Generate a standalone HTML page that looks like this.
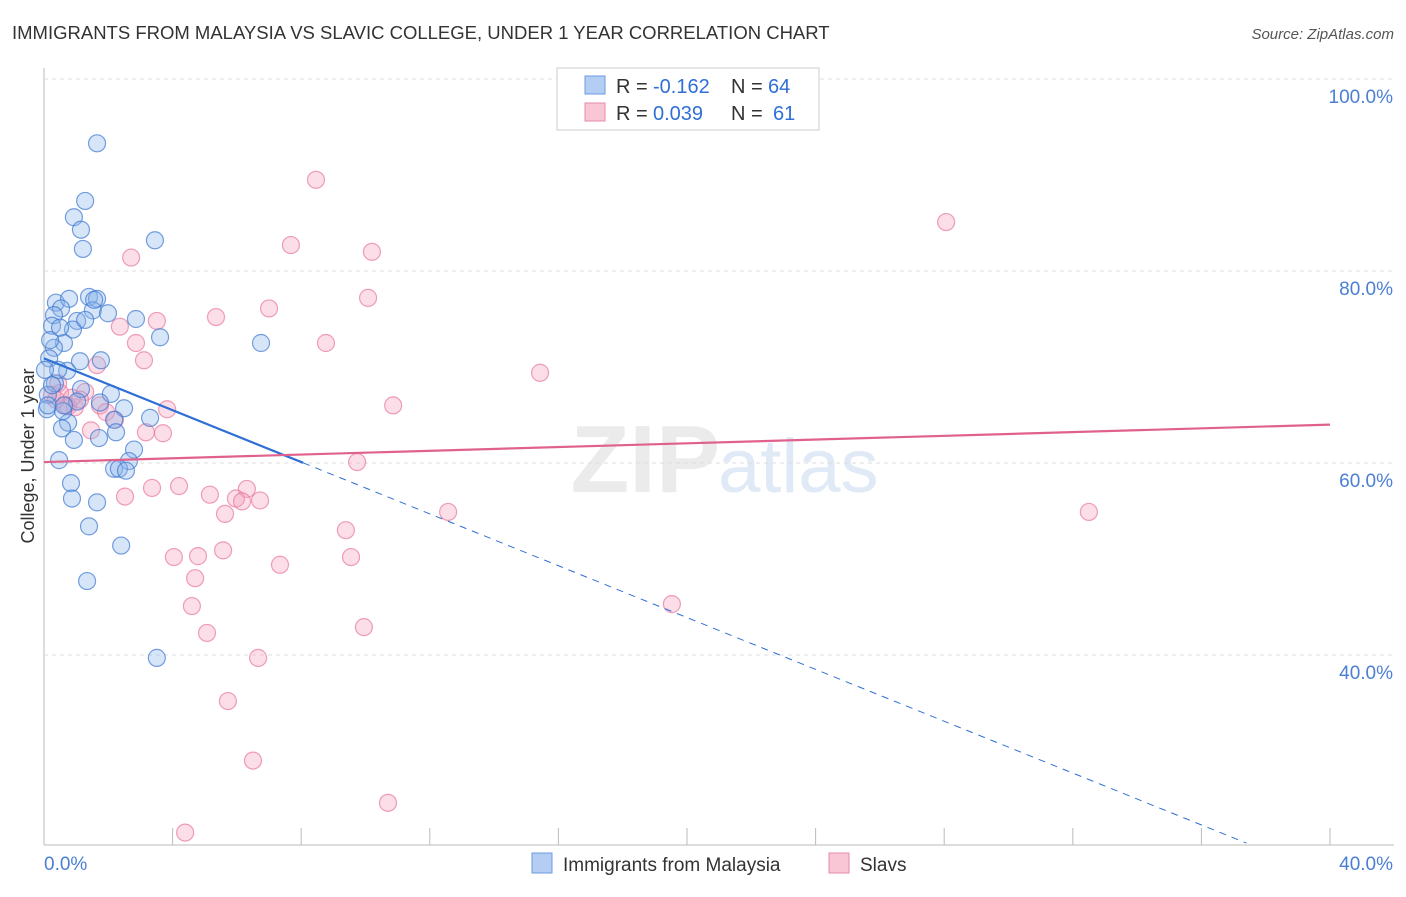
<!DOCTYPE html>
<html><head><meta charset="utf-8"><style>
body{margin:0;background:#fff;font-family:"Liberation Sans",sans-serif}
svg text{font-family:"Liberation Sans",sans-serif}
</style></head><body>
<svg id="c" width="1406" height="892">
<text x="12" y="39" font-size="18.5" fill="#333">IMMIGRANTS FROM MALAYSIA VS SLAVIC COLLEGE, UNDER 1 YEAR CORRELATION CHART</text>
<text x="1394" y="39" font-size="15" fill="#555" font-style="italic" text-anchor="end">Source: ZipAtlas.com</text>
<text x="720" y="492" font-size="96" fill="#ebebeb" font-family="Liberation Serif" text-anchor="end" font-weight="bold">ZIP</text>
<text x="718" y="492" font-size="76" fill="#e0e9f6">atlas</text>
<text x="34" y="456" font-size="18" fill="#333" text-anchor="middle" transform="rotate(-90 34 456)">College, Under 1 year</text>
<g id="grid"></g><g id="pts"></g><g id="trend"></g>
<g>
<rect x="557" y="68" width="262" height="62" fill="#fff" stroke="#ccc"/>
<rect x="585" y="76" width="20" height="18" fill="#b3cdf3" stroke="#6a9be0"/>
<rect x="585" y="103" width="20" height="18" fill="#f8c6d5" stroke="#e88aa8"/>
<text x="616" y="93" font-size="20" fill="#333">R =</text>
<text x="653" y="93" font-size="20" fill="#2f6fd6">-0.162</text>
<text x="731" y="93" font-size="20" fill="#333">N =</text>
<text x="768" y="93" font-size="20" fill="#2f6fd6">64</text>
<text x="616" y="120" font-size="20" fill="#333">R =</text>
<text x="653" y="120" font-size="20" fill="#2f6fd6">0.039</text>
<text x="731" y="120" font-size="20" fill="#333">N =</text>
<text x="773" y="120" font-size="20" fill="#2f6fd6">61</text>
</g>
<g>
<rect x="532" y="853" width="20" height="20" fill="#b3cdf3" stroke="#6a9be0"/>
<text x="563" y="871" font-size="19" fill="#333">Immigrants from Malaysia</text>
<rect x="829" y="853" width="20" height="20" fill="#f8c6d5" stroke="#e88aa8"/>
<text x="860" y="871" font-size="19" fill="#333">Slavs</text>
</g>
</svg>
<script>
const blueX=[1.65,1.28,0.93,1.15,1.21,3.45,6.75,0.37,0.78,0.53,1.40,1.65,1.52,1.99,2.86,0.31,0.25,1.03,0.90,0.62,0.31,0.16,1.77,1.12,0.72,1.15,2.08,0.34,0.12,0.09,1.03,2.49,3.30,2.18,2.24,0.75,0.56,1.71,0.93,2.80,2.64,0.47,2.18,2.33,2.55,0.84,0.87,1.65,1.40,2.40,1.34,3.51,0.44,1.56,1.74,0.59,0.12,0.03,0.25,3.61,0.62,0.19,1.28,0.50];
const blueY=[93.3,87.3,85.6,84.3,82.3,83.2,72.5,76.7,77.1,76.1,77.3,77.1,75.9,75.6,75.0,75.4,74.3,74.8,73.9,72.5,72.0,70.9,70.7,70.6,69.6,67.7,67.2,68.3,67.1,65.6,66.4,65.7,64.7,64.5,63.2,64.2,63.6,62.6,62.4,61.4,60.2,60.3,59.4,59.4,59.2,57.9,56.3,55.9,53.4,51.4,47.7,39.7,69.7,77.0,66.3,65.4,66.0,69.7,68.1,73.1,66.0,72.8,74.9,74.1];
const pinkX=[8.46,28.06,7.68,10.20,2.71,10.08,7.00,5.35,3.51,2.36,8.77,2.86,3.11,15.43,1.65,0.44,1.28,0.25,1.74,10.86,3.83,0.75,1.93,2.21,3.70,3.17,1.46,9.74,4.20,2.52,3.36,5.16,6.31,5.97,6.72,6.16,5.63,12.57,32.50,9.39,4.04,4.79,5.57,9.55,7.34,4.70,4.60,19.53,5.07,9.95,6.66,5.72,6.50,10.70,4.39,0.50,0.96,0.68,0.37,0.87,1.12];
const pinkY=[89.5,85.1,82.7,82.0,81.4,77.2,76.1,75.2,74.8,74.2,72.5,72.5,70.7,69.4,70.2,68.3,67.4,67.1,66.0,66.0,65.6,65.9,65.3,64.5,63.1,63.2,63.4,60.1,57.6,56.5,57.4,56.7,57.3,56.3,56.1,56.0,54.7,54.9,54.9,53.0,50.2,50.3,50.9,50.2,49.4,48.0,45.1,45.3,42.3,42.9,39.7,35.2,29.0,24.6,21.5,67.3,65.8,66.0,66.6,66.8,66.6];
const yTicks=[100,80,60,40];
const yTickLabels=["100.0%","80.0%","60.0%","40.0%"];
const blueTrend=[70.9,-1.35];
const pinkTrend=[60.1,0.0975];
const NS="http://www.w3.org/2000/svg";
const xs=v=>44+v*32.15, ys=v=>79+(100-v)*9.6;
function mk(t,a,p){const e=document.createElementNS(NS,t);for(const k in a)e.setAttribute(k,a[k]);p.appendChild(e);return e;}
const grid=document.getElementById('grid');
mk('line',{x1:44,y1:68,x2:44,y2:845,stroke:'#bbb'},grid);
mk('line',{x1:44,y1:845,x2:1394,y2:845,stroke:'#bbb'},grid);
for(let i=0;i<yTicks.length;i++){
 const y=ys(yTicks[i]);
 const l=mk('line',{x1:44,y1:y,x2:1394,y2:y,stroke:'#ddd','stroke-dasharray':'4,4'},grid);
 
 
 const t=mk('text',{x:1393,y:y+24,'font-size':19,fill:'#4a7fd4','text-anchor':'end'},grid);
 t.textContent=yTickLabels[i];
 
 
}
for(let i=1;i<=10;i++){const x=44+i*128.6;mk('line',{x1:x,y1:828,x2:x,y2:845,stroke:'#bbb'},grid);}
const xl=mk('text',{x:44,y:870,'font-size':19,fill:'#4a7fd4'},grid);xl.textContent='0.0%';


const xr=mk('text',{x:1393,y:870,'font-size':19,fill:'#4a7fd4','text-anchor':'end'},grid);xr.textContent='40.0%';


const pts=document.getElementById('pts');
for(let i=0;i<pinkX.length;i++){const c=mk('circle',{cx:xs(pinkX[i]),cy:ys(pinkY[i]),r:8.5,fill:'rgba(244,160,188,0.35)',stroke:'rgba(232,120,155,0.7)','stroke-width':1.2},pts);
 
 }
for(let i=0;i<blueX.length;i++){const c=mk('circle',{cx:xs(blueX[i]),cy:ys(blueY[i]),r:8.5,fill:'rgba(140,180,235,0.35)',stroke:'rgba(60,120,210,0.7)','stroke-width':1.2},pts);
 
 }
const tr=document.getElementById('trend');
const bt=x=>blueTrend[0]+blueTrend[1]*x, pt=x=>pinkTrend[0]+pinkTrend[1]*x;
const b1=mk('line',{x1:xs(0),y1:ys(bt(0)),x2:xs(8.06),y2:ys(bt(8.06)),stroke:'#2f6fd6','stroke-width':2.2},tr);


const b2=mk('line',{x1:xs(8.06),y1:ys(bt(8.06)),x2:xs(37.4),y2:ys(bt(37.4)),stroke:'#2f6fd6','stroke-width':1,'stroke-dasharray':'7,6'},tr);


const p1=mk('line',{x1:xs(0),y1:ys(pt(0)),x2:xs(40),y2:ys(pt(40)),stroke:'#e0628c','stroke-width':2.2},tr);


</script>
</body></html>
